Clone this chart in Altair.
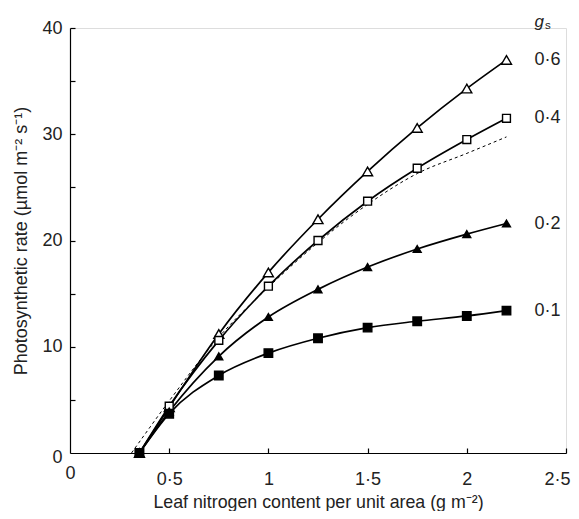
import altair as alt
import pandas as pd

# Leaf nitrogen content (g m-2)
x_n = [0.35, 0.5, 0.75, 1.0, 1.25, 1.5, 1.75, 2.0, 2.2]
# Photosynthetic rate for each stomatal conductance gs
gs06 = [0.0, 4.3, 11.2, 17.0, 22.0, 26.5, 30.6, 34.3, 37.0]
gs04 = [0.0, 4.4, 10.6, 15.7, 20.0, 23.7, 26.8, 29.5, 31.5]
gs02 = [0.0, 3.9, 9.1, 12.8, 15.4, 17.5, 19.2, 20.6, 21.6]
gs01 = [0.0, 3.7, 7.3, 9.4, 10.8, 11.8, 12.4, 12.9, 13.4]
# dashed reference curve
x_dash = [0.31, 0.5, 0.75, 1.0, 1.25, 1.5, 1.75, 2.0, 2.2]
y_dash = [0.0, 4.9, 10.9, 15.6, 19.8, 23.4, 26.3, 28.2, 29.75]

series_names = ["0·6", "0·4", "0·2", "0·1"]
series_vals = [gs06, gs04, gs02, gs01]

x_ticks = [0, 0.5, 1, 1.5, 2, 2.5]
x_minor = [0.5, 1, 1.5, 2, 2.5]
y_ticks = [0, 10, 20, 30, 40]
y_minor = [5, 10, 15, 20, 25, 30, 35, 40]

rows = []
for name, vals in zip(series_names, series_vals):
    for xv, yv in zip(x_n, vals):
        rows.append({"series": name, "x": xv, "y": yv})
df = pd.DataFrame(rows)
df_dash = pd.DataFrame({"x": x_dash, "y": y_dash})
df_lab = pd.DataFrame({"label": series_names, "x": [x_n[-1]] * 4, "y": [v[-1] for v in series_vals]})
df_gs = pd.DataFrame({"x": [x_n[-1]], "y": [40]})

W, H = 496, 425
FONT = "Liberation Sans"
TXT = "#222"
fmt = "replace(format(datum.value, ''), '.', '·')"

xs = alt.Scale(domain=[0, 2.5], nice=False, zero=False)
ys = alt.Scale(domain=[0, 40], nice=False)

x_axis = alt.Axis(values=x_ticks, labelExpr=fmt, tickSize=0, grid=False, labelFlush=False,
                  labelOverlap=False, domainColor="black", domainWidth=1.2,
                  labelFont=FONT, labelFontSize=18, labelColor=TXT,
                  labelPadding={"condition": {"test": "datum.value == 0", "value": 11}, "value": 17},
                  labelAlign={"condition": {"test": "datum.value >= 2.4", "value": "right"}, "value": "center"},
                  labelOffset={"condition": {"test": "datum.value >= 2.4", "value": 4}, "value": 0},
                  title="Leaf nitrogen content per unit area (g m⁻²)",
                  titleFont=FONT, titleFontSize=17.8, titleFontWeight="normal", titleColor=TXT,
                  titlePadding=5)
y_axis = alt.Axis(values=y_ticks, labelExpr=fmt, tickSize=0, grid=False, labelFlush=False,
                  labelOverlap=False, domainColor="black", domainWidth=1.2,
                  labelFont=FONT, labelFontSize=18, labelColor=TXT, labelPadding=8,
                  labelOffset={"condition": {"test": "datum.value == 0", "value": 4}, "value": 0},
                  title="Photosynthetic rate (µmol m⁻² s⁻¹)",
                  titleFont=FONT, titleFontSize=18, titleFontWeight="normal", titleColor=TXT,
                  titlePadding=11)

X = alt.X("x:Q", scale=xs, axis=x_axis)
Y = alt.Y("y:Q", scale=ys, axis=y_axis)

lines = alt.Chart(df).mark_line(color="black", strokeWidth=1.7, interpolate="monotone").encode(
    x=X, y=Y, detail="series:N")
dash = alt.Chart(df_dash).mark_line(color="black", strokeWidth=1, strokeDash=[3, 3],
                                    interpolate="monotone").encode(x=X, y=Y)

def pts(name, shape, filled, size):
    return alt.Chart(df).transform_filter(alt.datum.series == name).mark_point(
        shape=shape, filled=True, fill="black" if filled else "white",
        stroke="black", strokeWidth=1.4, size=size, opacity=1).encode(x=X, y=Y)

p06 = pts("0·6", "triangle-up", False, 100)
p04 = pts("0·4", "square", False, 62)
p02 = pts("0·2", "triangle-up", True, 62)
p01 = pts("0·1", "square", True, 72)

labels = alt.Chart(df_lab).mark_text(align="left", baseline="middle", dx=28, font=FONT,
                                     fontSize=18, color=TXT).encode(x=X, y=Y, text="label:N")
g_txt = alt.Chart(df_gs).mark_text(align="left", baseline="alphabetic", dx=28, dy=-1, font=FONT,
                                   fontSize=17, fontStyle="italic", color=TXT, text="g").encode(x=X, y=Y)
s_txt = alt.Chart(df_gs).mark_text(align="left", baseline="alphabetic", dx=38.5, dy=1, font=FONT,
                                   fontSize=11.5, color=TXT, text="s").encode(x=X, y=Y)

main = alt.layer(lines, dash, p06, p04, p02, p01, labels, g_txt, s_txt)

tick_layer = alt.Chart(pd.DataFrame({"x": [0.0], "y": [0.0]})).mark_point(opacity=0).encode(
    x=alt.X("x:Q", scale=xs, axis=alt.Axis(orient="top", offset=-H, values=x_minor, labels=False,
                                            domain=False, tickSize=5, tickColor="black", tickWidth=1.2,
                                            title=None, grid=False)),
    y=alt.Y("y:Q", scale=ys, axis=alt.Axis(orient="right", offset=-W, values=y_minor, labels=False,
                                            domain=False, tickSize=5, tickColor="black", tickWidth=1.2,
                                            title=None, grid=False)))

chart = alt.layer(main, tick_layer).resolve_scale(x="independent", y="independent").properties(
    width=W, height=H,
    autosize=alt.AutoSizeParams(type="none"),
    padding={"left": 62, "top": 20, "right": 5, "bottom": 58}
).configure_view(stroke=None).configure(background="white")

chart.save("out.html", embed_options={"renderer": "svg", "actions": False})
